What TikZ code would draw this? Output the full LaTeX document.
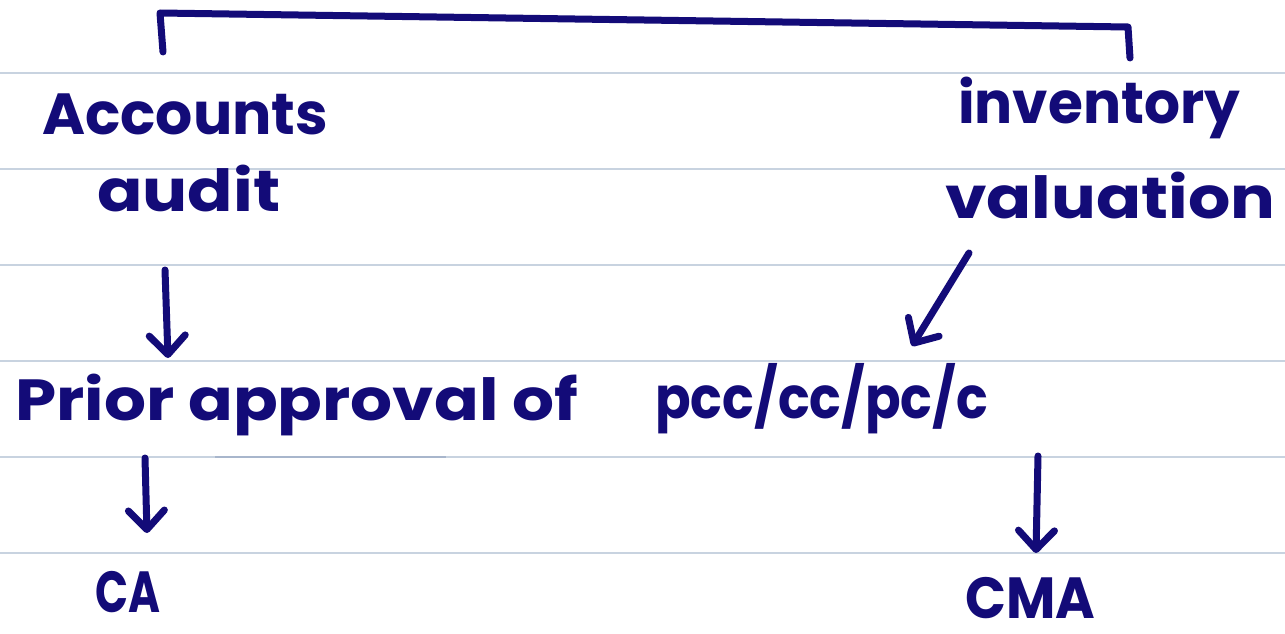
\documentclass[tikz,border=0pt]{standalone}
\usepackage{fontspec}
\setmainfont{Poppins}
\usetikzlibrary{arrows.meta}
\definecolor{ink}{RGB}{19,11,120}
\definecolor{rule}{RGB}{200,211,224}
\definecolor{ruledark}{RGB}{168,182,204}
\newcommand\fitw[2]{\resizebox{#1}{\height}{#2}}
\tikzset{
  ruleline/.style={draw=rule, line width=1.6pt},
  hand/.style={inner sep=0pt, anchor=base west, text=ink, font=\fontsize{58}{64}\selectfont\bfseries},
  inkline/.style={draw=ink, line width=7pt, line cap=round, line join=round},
  inkarrow/.style={inkline, -{Straight Barb[length=19pt,width=36pt,round]}},
}
\begin{document}
\begin{tikzpicture}[x=1pt,y=-1pt]
\useasboundingbox (0,0) rectangle (1285,634);
\fill[white] (0,0) rectangle (1285,634);
% ruled lines
\foreach \yy in {73,169,265,361,457,553}{
  \draw[ruleline] (0,\yy) -- (1285,\yy);
}
\draw[draw=ruledark, line width=1.6pt] (215,457) -- (446,457);
% texts
\node[hand] (acc) at (42,135) {\fitw{286pt}{Accounts}};
\node[hand] (aud) at (97,211) {\fitw{183pt}{audit}};
\node[hand] (inv) at (958,123) {\fitw{282pt}{inventory}};
\node[hand] (val) at (945,218) {\fitw{330pt}{valuation}};
\node[hand] (pri) at (15,420) {\fitw{563pt}{Prior approval of}};
\node[hand] (pcc) at (655,418) {\fitw{333pt}{pcc/cc/pc/c}};
\node[hand] (ca) at (95,612) {\fitw{65pt}{CA}};
\node[hand] (cma) at (965,618) {\fitw{130pt}{CMA}};
% bracket
\coordinate (bl) at (160,13);
\coordinate (br) at (1128,27);
\coordinate (blb) at (163,52);
\coordinate (brb) at (1130,58);
\draw[inkline] (blb) -- (bl) -- (br) -- (brb);
% arrows
\coordinate (a1s) at (165,270);
\coordinate (a1e) at (168,358);
\coordinate (a2s) at (969,253);
\coordinate (a2e) at (912,346);
\coordinate (a3s) at (145,458);
\coordinate (a3e) at (147,533);
\coordinate (a4s) at (1038,456);
\coordinate (a4e) at (1036,553);
\draw[inkarrow] (a1s) -- (a1e);
\draw[inkarrow] (a2s) -- (a2e);
\draw[inkarrow] (a3s) -- (a3e);
\draw[inkarrow] (a4s) -- (a4e);
\end{tikzpicture}
\end{document}
